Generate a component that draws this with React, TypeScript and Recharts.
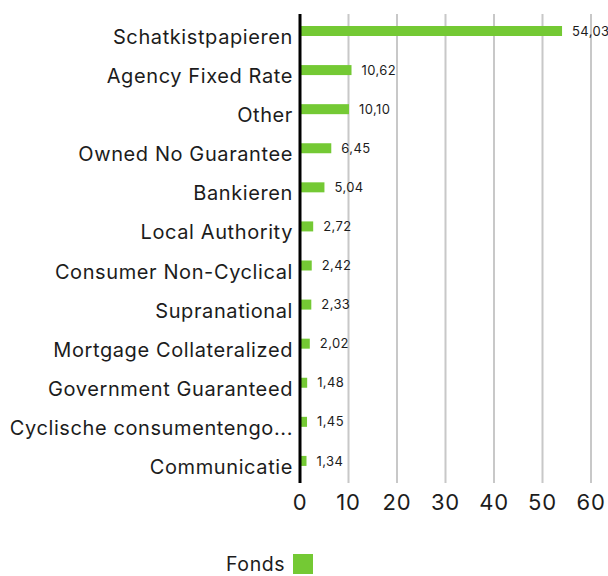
import React from 'react';
import { BarChart, Bar, XAxis, YAxis, CartesianGrid, Legend, LabelList } from 'recharts';

const categories = [
  'Schatkistpapieren',
  'Agency Fixed Rate',
  'Other',
  'Owned No Guarantee',
  'Bankieren',
  'Local Authority',
  'Consumer Non-Cyclical',
  'Supranational',
  'Mortgage Collateralized',
  'Government Guaranteed',
  'Cyclische consumentengo...',
  'Communicatie',
];
const fondsValues = [54.03, 10.62, 10.1, 6.45, 5.04, 2.72, 2.42, 2.33, 2.02, 1.48, 1.45, 1.34];
const xTicks = [0, 10, 20, 30, 40, 50, 60];

const data = categories.map((name, i) => ({ name, Fonds: fondsValues[i] }));

const FONT = 'Inter, sans-serif';
const GREEN = '#74C934';
const TEXT = '#1c1c1c';

const fmt = (v: number) => v.toFixed(2).replace('.', ',');

function CategoryTick(props: any) {
  const { x, y, payload } = props;
  return (
    <text
      x={x}
      y={y}
      dy={10.5}
      textAnchor="end"
      fontSize={20}
      letterSpacing={0.6}
      fill={TEXT}
      fontFamily={FONT}
    >
      {payload.value}
    </text>
  );
}

function ShiftedBar(props: any) {
  const { x, y, width, height, fill } = props;
  return <rect x={x} y={y - 3} width={width} height={height} fill={fill} />;
}

function LegendContent() {
  return (
    <div
      style={{
        display: 'flex',
        alignItems: 'center',
        fontFamily: FONT,
        fontSize: 19.5,
        letterSpacing: 0.6,
        color: TEXT,
      }}
    >
      <span>Fonds</span>
      <span style={{ display: 'inline-block', width: 20, height: 20, background: GREEN, marginLeft: 8 }} />
    </div>
  );
}

export default function App() {
  return (
    <div>
      <style>{'body { margin: 0; } .recharts-surface { overflow: visible; }'}</style>
      <BarChart
        width={608}
        height={576}
        data={data}
        layout="vertical"
        margin={{ top: 14, right: 17, bottom: 1, left: 8 }}
      >
        <CartesianGrid horizontal={false} stroke="#c8c8c8" strokeWidth={2} />
        <XAxis
          type="number"
          domain={[0, 60]}
          ticks={xTicks}
          axisLine={false}
          tickLine={false}
          tickSize={0}
          tickMargin={11}
          height={67}
          tick={{ fontSize: 22, fill: TEXT, fontFamily: FONT, letterSpacing: 0.8 }}
        />
        <YAxis
          type="category"
          dataKey="name"
          width={292}
          tickLine={false}
          tickSize={0}
          tickMargin={7}
          axisLine={{ stroke: '#000', strokeWidth: 3 }}
          tick={<CategoryTick />}
          interval={0}
        />
        <Legend
          verticalAlign="bottom"
          height={25}
          content={<LegendContent />}
          wrapperStyle={{ left: 226, top: 552, width: 'auto' }}
        />
        <Bar dataKey="Fonds" fill={GREEN} barSize={10} isAnimationActive={false} shape={<ShiftedBar />}>
          <LabelList
            dataKey="Fonds"
            position="right"
            offset={10}
            formatter={(v: number) => fmt(v)}
            style={{ fontSize: 13, fill: TEXT, fontFamily: FONT, letterSpacing: 0.4 }}
            dy={-3}
          />
        </Bar>
      </BarChart>
    </div>
  );
}
